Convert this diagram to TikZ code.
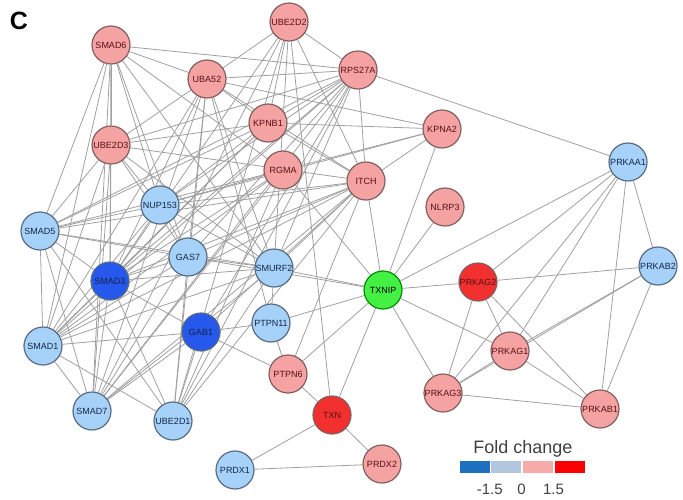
\documentclass[tikz,border=0pt]{standalone}
\usepackage{fontspec}
\setmainfont{Liberation Sans}
\usetikzlibrary{positioning,backgrounds}

\definecolor{pinkfill}{RGB}{244,162,162}
\definecolor{pinkdraw}{RGB}{128,96,96}
\definecolor{pinktext}{RGB}{90,16,20}
\definecolor{bluefill}{RGB}{166,210,250}
\definecolor{bluedraw}{RGB}{88,108,128}
\definecolor{bluetext}{RGB}{20,38,70}
\definecolor{navyfill}{RGB}{38,88,238}
\definecolor{redfill}{RGB}{242,48,48}
\definecolor{greenfill}{RGB}{68,240,68}
\definecolor{edgegray}{RGB}{160,160,160}
\definecolor{legdark}{RGB}{30,112,192}
\definecolor{leglight}{RGB}{178,198,224}
\definecolor{legpink}{RGB}{246,170,170}
\definecolor{legred}{RGB}{250,0,0}

\begin{document}
\begin{tikzpicture}[x=1pt, y=-1pt,
    gene/.style={circle, minimum size=38pt, inner sep=0pt, line width=1.2pt, font=\fontsize{9}{10}\selectfont},
    pinkgene/.style={gene, fill=pinkfill, draw=pinkdraw, text=pinktext},
    redgene/.style={gene, fill=redfill, draw=pinkdraw, text=pinktext},
    bluegene/.style={gene, fill=bluefill, draw=bluedraw, text=bluetext},
    navygene/.style={gene, fill=navyfill, draw=bluedraw, text=bluetext},
    greengene/.style={gene, fill=greenfill, draw=black!45!green, text=black},
    link/.style={draw=edgegray, line width=0.8pt},
    legbox/.style={minimum width=30pt, minimum height=12pt, inner sep=0pt},
    legtext/.style={font=\fontsize{15}{16}\selectfont, text=black!75}
]
\useasboundingbox (0,0) rectangle (683,499);

% Panel letter
\node[font=\fontsize{25}{25}\selectfont\bfseries] (panel) at (19,21) {C};

% Up-regulated genes
\node[pinkgene] (SMAD6) at (111,45) {SMAD6};
\node[pinkgene] (UBE2D2) at (289,22) {UBE2D2};
\node[pinkgene] (UBA52) at (207,79) {UBA52};
\node[pinkgene] (RPS27A) at (358,70) {RPS27A};
\node[pinkgene] (KPNB1) at (268,123) {KPNB1};
\node[pinkgene] (KPNA2) at (442,129) {KPNA2};
\node[pinkgene] (UBE2D3) at (111,145) {UBE2D3};
\node[pinkgene] (RGMA) at (283,170) {RGMA};
\node[pinkgene] (ITCH) at (366,181) {ITCH};
\node[pinkgene] (NLRP3) at (445,207) {NLRP3};
\node[pinkgene] (PTPN6) at (288,374) {PTPN6};
\node[pinkgene] (PRDX2) at (382,464) {PRDX2};
\node[pinkgene] (PRKAG1) at (510,351) {PRKAG1};
\node[pinkgene] (PRKAG3) at (443,393) {PRKAG3};
\node[pinkgene] (PRKAB1) at (600,409) {PRKAB1};
\node[redgene] (PRKAG2) at (478,282) {PRKAG2};
\node[redgene] (TXN) at (332,415) {TXN};

% Down-regulated genes
\node[bluegene] (NUP153) at (160,205) {NUP153};
\node[bluegene] (SMAD5) at (40,231) {SMAD5};
\node[bluegene] (GAS7) at (188,257) {GAS7};
\node[bluegene] (SMURF2) at (274,268) {SMURF2};
\node[bluegene] (PTPN11) at (271,323) {PTPN11};
\node[bluegene] (SMAD1) at (43,346) {SMAD1};
\node[bluegene] (SMAD7) at (92,411) {SMAD7};
\node[bluegene] (UBE2D1) at (173,421) {UBE2D1};
\node[bluegene] (PRDX1) at (235,470) {PRDX1};
\node[bluegene] (PRKAA1) at (628,162) {PRKAA1};
\node[bluegene] (PRKAB2) at (658,266) {PRKAB2};
\node[navygene] (SMAD3) at (110,281) {SMAD3};
\node[navygene] (GAB1) at (201,332) {GAB1};

% Hub
\node[greengene] (TXNIP) at (383,290) {TXNIP};

% Interactions
\begin{pgfonlayer}{background}
\foreach \a/\b in {SMAD6/UBA52, SMAD6/RPS27A, SMAD6/UBE2D3, SMAD6/SMAD5, SMAD6/SMAD1,
    SMAD6/SMAD3, SMAD6/SMAD7, SMAD6/NUP153, SMAD6/RGMA, SMAD6/SMURF2, SMAD6/GAS7,
    UBE2D2/UBA52, UBE2D2/RPS27A, UBE2D2/UBE2D1, UBE2D2/SMURF2, UBE2D2/ITCH, UBE2D2/TXN,
    UBE2D2/KPNB1, UBE2D2/SMAD3, UBE2D2/SMAD7,
    UBA52/RPS27A, UBA52/KPNB1, UBA52/ITCH, UBA52/KPNA2, UBA52/UBE2D3, UBA52/SMAD1,
    UBA52/SMAD3, UBA52/SMAD7, UBA52/UBE2D1, UBA52/GAS7, UBA52/SMURF2, UBA52/PTPN11,
    RPS27A/PRKAA1, RPS27A/ITCH, RPS27A/UBE2D3, RPS27A/KPNB1, RPS27A/SMAD3, RPS27A/SMAD1,
    RPS27A/SMAD7, RPS27A/SMAD5, RPS27A/GAS7, RPS27A/SMURF2, RPS27A/UBE2D1, RPS27A/NUP153,
    RPS27A/GAB1,
    KPNB1/KPNA2, KPNB1/ITCH, KPNB1/NUP153, KPNB1/SMAD3, KPNB1/UBE2D3, KPNB1/SMAD5, KPNB1/SMAD1,
    KPNA2/ITCH, KPNA2/TXNIP, KPNA2/NUP153, KPNA2/RGMA,
    UBE2D3/ITCH, UBE2D3/SMAD3, UBE2D3/SMAD5, UBE2D3/SMAD1, UBE2D3/SMAD7, UBE2D3/SMURF2,
    UBE2D3/NUP153, UBE2D3/GAS7,
    RGMA/SMAD1, RGMA/SMAD5, RGMA/SMAD3, RGMA/SMAD7, RGMA/TXNIP, RGMA/UBE2D1, RGMA/NUP153,
    ITCH/SMAD3, ITCH/SMAD7, ITCH/SMAD1, ITCH/SMAD5, ITCH/GAS7, ITCH/UBE2D1, ITCH/SMURF2,
    ITCH/TXNIP, ITCH/PTPN6, ITCH/GAB1, ITCH/NUP153,
    NLRP3/TXNIP,
    NUP153/SMAD5, NUP153/SMAD1, NUP153/SMAD3, NUP153/SMURF2, NUP153/GAS7,
    SMAD5/SMAD1, SMAD5/SMAD3, SMAD5/SMAD7, SMAD5/GAS7, SMAD5/SMURF2, SMAD5/UBE2D1,
    GAS7/SMAD3, GAS7/SMAD1, GAS7/SMAD7, GAS7/UBE2D1, GAS7/SMURF2, GAS7/TXNIP,
    SMAD3/SMAD1, SMAD3/SMAD7, SMAD3/SMURF2, SMAD3/UBE2D1, SMAD3/GAB1,
    SMURF2/TXNIP, SMURF2/SMAD1, SMURF2/SMAD7, SMURF2/UBE2D1, SMURF2/PTPN11,
    SMAD1/SMAD7, SMAD1/UBE2D1, SMAD1/GAB1, SMAD7/GAB1, UBE2D1/GAB1,
    GAB1/PTPN11, GAB1/PTPN6, PTPN11/PTPN6, PTPN11/TXNIP, PTPN6/TXNIP, PTPN6/TXN,
    TXN/TXNIP, TXN/PRDX1, TXN/PRDX2, PRDX1/PRDX2,
    TXNIP/PRKAA1, TXNIP/PRKAG2, TXNIP/PRKAG1, TXNIP/PRKAG3,
    PRKAA1/PRKAG2, PRKAA1/PRKAG1, PRKAA1/PRKAG3, PRKAA1/PRKAB1, PRKAA1/PRKAB2,
    PRKAB2/PRKAG2, PRKAB2/PRKAG1, PRKAB2/PRKAG3, PRKAB2/PRKAB1,
    PRKAG2/PRKAG3, PRKAG2/PRKAG1, PRKAG2/PRKAB1,
    PRKAG1/PRKAG3, PRKAG1/PRKAB1, PRKAG3/PRKAB1}
  \draw[link] (\a) -- (\b);
\end{pgfonlayer}

% Legend
\node[font=\fontsize{18}{18}\selectfont, text=black!75] (legtitle) at (523,449) {Fold change};
\node[legbox, fill=legdark] (lb1) at (474.5,467) {};
\node[legbox, fill=leglight, right=1.5pt of lb1] (lb2) {};
\node[legbox, fill=legpink, right=1.5pt of lb2] (lb3) {};
\node[legbox, fill=legred, right=1.5pt of lb3] (lb4) {};
\node[legtext] at (lb1.east |- 0,489) {-1.5};
\node[legtext] at (lb2.east |- 0,489) {0};
\node[legtext] at (lb3.east |- 0,489) {1.5};

\end{tikzpicture}
\end{document}
